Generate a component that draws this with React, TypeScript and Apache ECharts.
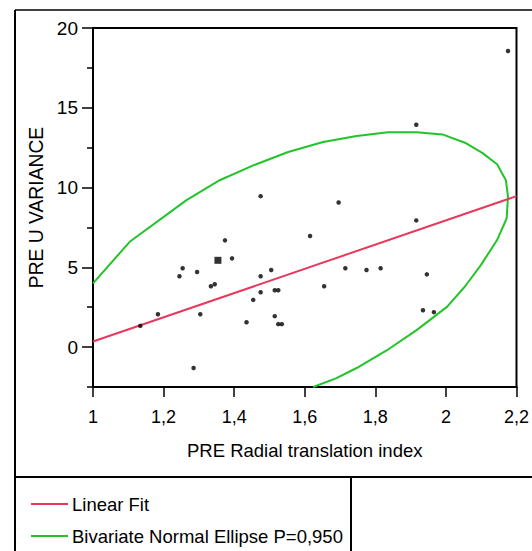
import React, { useEffect, useRef } from "react";
import * as echarts from "echarts";

// Scatter data (PRE Radial translation index, PRE U VARIANCE)
const pointX = [1.134, 1.184, 1.254, 1.245, 1.295, 1.304, 1.285, 1.334, 1.345, 1.374, 1.394, 1.435, 1.454, 1.475, 1.475, 1.475, 1.505, 1.515, 1.525, 1.515, 1.525, 1.535, 1.615, 1.655, 1.696, 1.715, 1.775, 1.815, 1.916, 1.916, 1.935, 1.946, 1.966, 2.176];
const pointY = [1.33, 2.06, 4.94, 4.44, 4.71, 2.06, -1.31, 3.81, 3.94, 6.69, 5.56, 1.56, 2.96, 9.46, 4.44, 3.44, 4.83, 3.56, 3.56, 1.94, 1.44, 1.44, 6.96, 3.81, 9.06, 4.94, 4.83, 4.94, 13.94, 7.94, 2.31, 4.56, 2.19, 18.56];
// Overlapping (repeated) observations drawn as a larger square
const repeatX = [1.354];
const repeatY = [5.44];

// Linear fit endpoints
const fitX = [1, 2.2];
const fitY = [0.35, 9.46];

// Bivariate normal ellipse P=0,950 (visible part)
const ellipseX = [1.0, 1.104, 1.265, 1.359, 1.454, 1.553, 1.652, 1.747, 1.836, 1.917, 1.99, 2.054, 2.104, 2.145, 2.17, 2.176, 2.172, 2.145, 2.099, 2.054, 2.003, 1.918, 1.832, 1.747, 1.69, 1.624];
const ellipseY = [4.0, 6.6, 9.21, 10.46, 11.39, 12.23, 12.85, 13.23, 13.46, 13.46, 13.33, 12.81, 12.16, 11.46, 10.46, 9.41, 8.06, 6.71, 5.14, 3.8, 2.52, 1.08, -0.21, -1.31, -1.94, -2.5];

// Axis ticks
const xTicks = [1, 1.2, 1.4, 1.6, 1.8, 2, 2.2];
const yTicks = [0, 5, 10, 15, 20];
const yMinorTicks = [-2.5, 2.5, 7.5, 12.5, 17.5];

const xName = "PRE Radial translation index";
const yName = "PRE U VARIANCE";
const legendFit = "Linear Fit";
const legendEllipse = "Bivariate Normal Ellipse P=0,950";

const FONT = "'Liberation Sans', Arial, sans-serif";
const RED = "#e8385c";
const GREEN = "#22c42a";

export default function App() {
  const ref = useRef<HTMLDivElement>(null);

  useEffect(() => {
    if (!ref.current) return;
    const chart = echarts.init(ref.current, undefined, { renderer: "svg" });
    const zip = (xs: number[], ys: number[]) => xs.map((x, i) => [x, ys[i]]);

    chart.setOption({
      animation: false,
      backgroundColor: "#fff",
      textStyle: { fontFamily: FONT },
      grid: {
        left: 93,
        right: 15,
        top: 28,
        bottom: 164,
        show: true,
        borderColor: "#000",
        borderWidth: 2,
        containLabel: false,
      },
      xAxis: {
        type: "value",
        min: 1,
        max: 2.2,
        name: xName,
        nameLocation: "middle",
        nameGap: 54,
        nameTextStyle: { fontSize: 18.5, color: "#000", fontFamily: FONT },
        axisLine: { show: true, onZero: false, lineStyle: { color: "#000", width: 2 } },
        axisTick: { show: true, inside: false, length: 10, customValues: xTicks, lineStyle: { color: "#000", width: 1.5 } },
        axisLabel: {
          show: true,
          customValues: xTicks,
          margin: 21,
          fontSize: 18,
          color: "#000",
          fontFamily: FONT,
          formatter: (v: number) => String(Math.round(v * 10) / 10).replace(".", ","),
        },
        splitLine: { show: false },
      },
      yAxis: [
        {
          type: "value",
          min: -2.5,
          max: 20,
          name: yName,
          nameLocation: "middle",
          nameGap: 40,
          nameTextStyle: { fontSize: 19.3, color: "#000", fontFamily: FONT },
          axisLine: { show: true, onZero: false, lineStyle: { color: "#000", width: 2 } },
          axisTick: { show: true, inside: false, length: 11, customValues: yTicks, lineStyle: { color: "#000", width: 1.5 } },
          axisLabel: {
            show: true,
            customValues: yTicks,
            margin: 15,
            fontSize: 19,
            color: "#000",
            fontFamily: FONT,
          },
          splitLine: { show: false },
        },
        {
          type: "value",
          min: -2.5,
          max: 20,
          position: "left",
          axisLine: { show: false },
          axisTick: { show: true, inside: false, length: 6, customValues: yMinorTicks, lineStyle: { color: "#000", width: 1.5 } },
          axisLabel: { show: false },
          splitLine: { show: false },
        },
      ],
      series: [
        {
          type: "line",
          name: legendEllipse,
          data: zip(ellipseX, ellipseY),
          symbol: "none",
          clip: true,
          lineStyle: { color: GREEN, width: 2 },
          z: 2,
        },
        {
          type: "line",
          name: legendFit,
          data: zip(fitX, fitY),
          symbol: "none",
          clip: true,
          lineStyle: { color: RED, width: 2 },
          z: 3,
        },
        {
          type: "scatter",
          name: "points",
          data: zip(pointX, pointY),
          symbol: "circle",
          symbolSize: 4.5,
          itemStyle: { color: "#000" },
          z: 4,
        },
        {
          type: "scatter",
          name: "repeated",
          data: zip(repeatX, repeatY),
          symbol: "rect",
          symbolSize: 7,
          itemStyle: { color: "#000" },
          z: 4,
        },
      ],
      graphic: [
        { type: "line", shape: { x1: 15, y1: 10, x2: 532, y2: 10 }, style: { stroke: "#000", lineWidth: 1.5 } },
        { type: "line", shape: { x1: 15, y1: 10, x2: 15, y2: 551 }, style: { stroke: "#000", lineWidth: 2 } },
        { type: "line", shape: { x1: 15, y1: 477, x2: 532, y2: 477 }, style: { stroke: "#000", lineWidth: 2 } },
        { type: "line", shape: { x1: 351, y1: 477, x2: 351, y2: 551 }, style: { stroke: "#000", lineWidth: 2 } },
        { type: "line", shape: { x1: 31, y1: 504, x2: 68, y2: 504 }, style: { stroke: RED, lineWidth: 2 } },
        {
          type: "text",
          x: 72,
          y: 504,
          style: { text: legendFit, fontSize: 18.5, fontFamily: FONT, fill: "#000", verticalAlign: "middle", align: "left" },
        },
        { type: "line", shape: { x1: 31, y1: 536, x2: 68, y2: 536 }, style: { stroke: GREEN, lineWidth: 2 } },
        {
          type: "text",
          x: 72,
          y: 536,
          style: { text: legendEllipse, fontSize: 18.5, fontFamily: FONT, fill: "#000", verticalAlign: "middle", align: "left" },
        },
      ],
    });

    return () => chart.dispose();
  }, []);

  return <div ref={ref} style={{ width: 532, height: 551, position: "absolute", left: 0, top: 0 }} />;
}
